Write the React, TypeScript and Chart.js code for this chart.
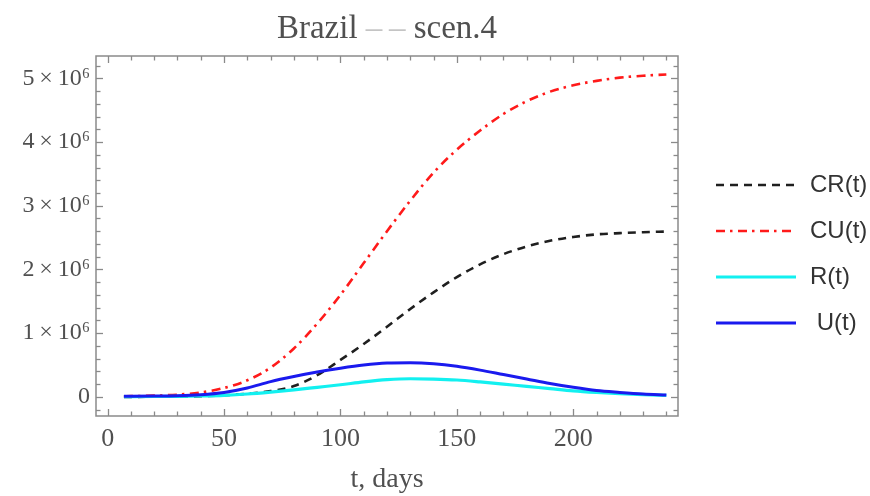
import React, { useEffect, useRef } from "react";
import { Chart, registerables } from "chart.js";

Chart.register(...registerables);

// ---- data (values in millions of people) ----
const UNIT = 1e6;
const DAYS = [7, 10, 20, 30, 40, 50, 60, 70, 80, 90, 100, 110, 120, 130, 140, 150, 160, 170, 180, 190, 200, 210, 220, 230, 240];
const CR = [0, 0, 0.002, 0.005, 0.01, 0.025, 0.05, 0.09, 0.17, 0.34, 0.58, 0.83, 1.1, 1.38, 1.64, 1.88, 2.08, 2.24, 2.36, 2.45, 2.51, 2.55, 2.57, 2.585, 2.595];
const CU = [0.01, 0.012, 0.02, 0.035, 0.07, 0.14, 0.26, 0.46, 0.76, 1.15, 1.6, 2.1, 2.6, 3.08, 3.52, 3.88, 4.18, 4.44, 4.64, 4.79, 4.89, 4.96, 5.01, 5.04, 5.06];
const R = [0.005, 0.005, 0.006, 0.009, 0.015, 0.025, 0.045, 0.075, 0.11, 0.15, 0.19, 0.235, 0.27, 0.285, 0.28, 0.265, 0.235, 0.2, 0.165, 0.13, 0.095, 0.07, 0.05, 0.035, 0.025];
const U = [0.01, 0.01, 0.012, 0.018, 0.035, 0.07, 0.14, 0.24, 0.32, 0.39, 0.45, 0.5, 0.53, 0.535, 0.52, 0.48, 0.42, 0.35, 0.28, 0.21, 0.15, 0.1, 0.07, 0.045, 0.03];

const LEGEND_LABELS = ["CR(t)", "CU(t)", "R(t)", " U(t)"];
const TITLE_PARTS = ["Brazil ", "–\u2009–", " scen.4"];
const X_TITLE = "t, days";
const X_TICKS = [0, 50, 100, 150, 200];
const Y_TICKS = [0, 1, 2, 3, 4, 5];

const X_MIN = -5, X_MAX = 245, X_MAJOR = 50, X_MINOR = 10;
const Y_MIN = -0.3e6, Y_MAX = 5.35e6, Y_MINOR = 0.2e6;

const TEXT = "#505050";
const FRAME = "#8a8a8a";
const SERIF = "'Liberation Serif', 'Times New Roman', serif";
const SANS = "'Liberation Sans', Arial, sans-serif";

const STYLES = [
  { color: "#1f1f1f", width: 2.6, dash: [8, 6] },
  { color: "#ff1a1a", width: 2.6, dash: [9, 5, 2.5, 5.5] },
  { color: "#12f0f0", width: 3.2, dash: [] as number[] },
  { color: "#1a1aee", width: 3.0, dash: [] as number[] },
];

const pts = (arr: number[]) => DAYS.map((d, i) => ({ x: d, y: arr[i] * UNIT }));

const framePlugin = {
  id: "mmaFrame",
  afterDatasetsDraw(chart: any) {
    const { ctx, chartArea: a, scales } = chart;
    const xs = scales.x, ys = scales.y;
    ctx.save();
    ctx.strokeStyle = FRAME;
    ctx.lineWidth = 1.5;
    ctx.strokeRect(a.left, a.top, a.right - a.left, a.bottom - a.top);
    ctx.lineWidth = 1.3;
    const seg = (x1: number, y1: number, x2: number, y2: number) => {
      ctx.beginPath(); ctx.moveTo(x1, y1); ctx.lineTo(x2, y2); ctx.stroke();
    };
    for (let t = Math.ceil(X_MIN / X_MINOR) * X_MINOR; t <= X_MAX; t += X_MINOR) {
      const px = Math.round(xs.getPixelForValue(t)) + 0.5;
      const len = t % X_MAJOR === 0 ? 7 : 4.5;
      seg(px, a.bottom, px, a.bottom - len);
      seg(px, a.top, px, a.top + len);
    }
    for (let k = Math.ceil(Y_MIN / Y_MINOR); k * Y_MINOR <= Y_MAX; k++) {
      const v = k * Y_MINOR;
      const py = Math.round(ys.getPixelForValue(v)) + 0.5;
      const len = k % 5 === 0 ? 7 : 4.5;
      seg(a.left, py, a.left + len, py);
      seg(a.right, py, a.right - len, py);
    }
    ctx.restore();
  },
  afterDraw(chart: any) {
    const { ctx, chartArea: a } = chart;
    ctx.save();
    // title
    ctx.font = `33px ${SERIF}`;
    ctx.textBaseline = "middle";
    ctx.textAlign = "left";
    const widths = TITLE_PARTS.map((p) => ctx.measureText(p).width);
    const total = widths.reduce((s, w) => s + w, 0);
    let x = (a.left + a.right) / 2 - total / 2;
    TITLE_PARTS.forEach((p, i) => {
      ctx.fillStyle = i === 1 ? "#c4c4c4" : TEXT;
      ctx.fillText(p, x, 29);
      x += widths[i];
    });
    // legend
    const ys = [185, 231, 277, 323];
    ctx.font = `24px ${SANS}`;
    LEGEND_LABELS.forEach((lab, i) => {
      const st = STYLES[i];
      ctx.strokeStyle = st.color;
      ctx.lineWidth = st.width;
      ctx.setLineDash(st.dash);
      ctx.beginPath();
      ctx.moveTo(716, ys[i]);
      ctx.lineTo(796, ys[i]);
      ctx.stroke();
      ctx.setLineDash([]);
      ctx.fillStyle = "#333";
      ctx.fillText(lab, 810, ys[i]);
    });
    ctx.restore();
  },
};

export default function App() {
  const ref = useRef<HTMLCanvasElement | null>(null);
  useEffect(() => {
    document.body.style.margin = "0";
    const canvas = ref.current!;
    const mk = (label: string, arr: number[], i: number) => ({
      label,
      data: pts(arr),
      borderColor: STYLES[i].color,
      borderWidth: STYLES[i].width,
      borderDash: STYLES[i].dash,
      borderCapStyle: "butt",
      pointRadius: 0,
      fill: false,
      cubicInterpolationMode: "monotone",
    });
    const chart = new Chart(canvas, {
      type: "line",
      data: {
        // first dataset is drawn on top in Chart.js
        datasets: [mk("U(t)", U, 3), mk("R(t)", R, 2), mk("CU(t)", CU, 1), mk("CR(t)", CR, 0)] as any,
      },
      options: {
        responsive: false,
        animation: false,
        layout: { padding: { left: 0, right: 192, top: 56, bottom: 0 } },
        plugins: { legend: { display: false }, title: { display: false }, tooltip: { enabled: false } },
        scales: {
          x: {
            type: "linear",
            min: X_MIN,
            max: X_MAX,
            grid: { display: false, drawTicks: false },
            border: { display: false },
            afterBuildTicks: (s: any) => { s.ticks = X_TICKS.map((v) => ({ value: v })); },
            ticks: {
              padding: 8,
              color: TEXT,
              maxRotation: 0,
              autoSkip: false,
              font: { family: SERIF, size: 26 },
            },
            title: {
              display: true,
              text: X_TITLE,
              color: TEXT,
              font: { family: SERIF, size: 28 },
              padding: { top: 0, bottom: 0 },
            },
            afterFit: (s: any) => { s.height = 80; },
          },
          y: {
            type: "linear",
            min: Y_MIN,
            max: Y_MAX,
            grid: { display: false, drawTicks: false },
            border: { display: false },
            afterBuildTicks: (s: any) => { s.ticks = Y_TICKS.map((v) => ({ value: v * UNIT })); },
            ticks: {
              padding: 6,
              color: TEXT,
              autoSkip: false,
              font: { family: SERIF, size: 24 },
              callback: (v: any) => (Number(v) === 0 ? "0" : `${Math.round(Number(v) / UNIT)}\u2009×\u200910⁶`),
            },
            afterFit: (s: any) => { s.width = 96; },
          },
        },
      } as any,
      plugins: [framePlugin],
    });
    return () => chart.destroy();
  }, []);
  return <canvas ref={ref} width={870} height={496} style={{ display: "block" }} />;
}
